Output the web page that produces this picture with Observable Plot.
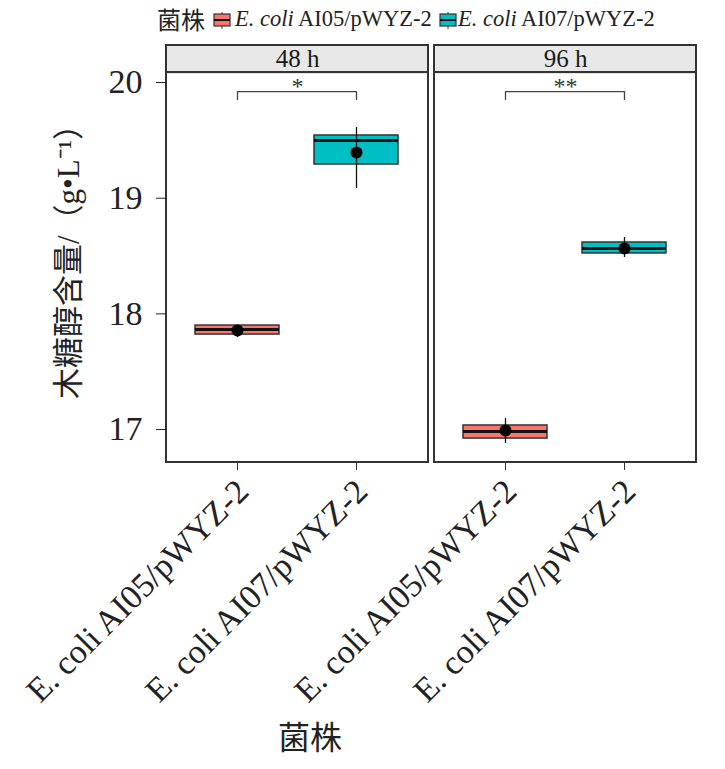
<!DOCTYPE html>
<html>
<head>
<meta charset="utf-8">
<script src="https://cdn.jsdelivr.net/npm/d3@7"></script>
<script src="https://cdn.jsdelivr.net/npm/@observablehq/plot@0.6"></script>
<style>
  body { margin: 0; background: #fff; }
  #wrap { position: relative; width: 725px; height: 769px; background: #fff;
          font-family: "Liberation Serif", "Noto Sans CJK SC", serif; color: #222; }
  #legend { position: absolute; top: 0; left: 0; width: 725px; height: 36px; overflow: hidden;
            font-size: 22.5px; white-space: nowrap; }
  #legend .item { position: absolute; top: 0; line-height: 38px; }
  #legend svg { position: absolute; top: 12px; }
  #chart { position: absolute; top: 36px; left: 0; }
  #xtitle { position: absolute; top: 712px; left: 0; width: 620px; text-align: center;
            font-family: "Noto Sans CJK SC", sans-serif; font-size: 32px; color: #222; }
</style>
</head>
<body>
<div id="wrap">
  <div id="legend"></div>
  <div id="chart"></div>
  <div id="xtitle"></div>
</div>
<script>
// ---- data ----
const times = ["48 h", "96 h"];
const strains = ["E. coli AI05/pWYZ-2", "E. coli AI07/pWYZ-2"];
const strainPrefix = "E. coli";
const strainSuffix = ["AI05/pWYZ-2", "AI07/pWYZ-2"];
const groupTime = ["48 h", "48 h", "96 h", "96 h"];
const groupStrain = [strains[0], strains[1], strains[0], strains[1]];
const boxLow = [17.821, 19.291, 16.922, 18.522];
const boxHigh = [17.899, 19.542, 17.035, 18.617];
const medians = [17.865, 19.498, 16.983, 18.565];
const means = [17.856, 19.394, 16.991, 18.565];
const whiskerLow = [17.795, 19.084, 16.879, 18.487];
const whiskerHigh = [17.899, 19.611, 17.095, 18.660];
const sigTime = ["48 h", "96 h"];
const sigLabel = ["*", "**"];
const yTicks = [17, 18, 19, 20];
const legendTitle = "菌株";
const xTitle = "菌株";
const yTitle = "木糖醇含量/（g•L⁻¹）";
const colors = ["#F8766D", "#00BFC4"];

// ---- layout constants (scale space) ----
const Y_MIN = 16.715, PANEL_TOP = 20.086, STRIP_TOP = 20.32;
const BRACKET_TOP = 19.922, BRACKET_BOTTOM = 19.853, STAR_Y = 19.97;

const rows = groupTime.map((t, i) => ({
  time: t, strain: groupStrain[i], q1: boxLow[i], q3: boxHigh[i],
  median: medians[i], mean: means[i], lo: whiskerLow[i], hi: whiskerHigh[i]
}));
const facets = times.map(t => ({time: t}));
const sigRows = sigTime.map((t, i) => ({time: t, label: sigLabel[i]}));
const bracketRows = sigTime.flatMap(t => [
  {time: t, strain: strains[0], y: BRACKET_BOTTOM},
  {time: t, strain: strains[0], y: BRACKET_TOP},
  {time: t, strain: strains[1], y: BRACKET_TOP},
  {time: t, strain: strains[1], y: BRACKET_BOTTOM}
]);

const font = "'Liberation Serif', 'Noto Sans CJK SC', serif";

const chart = Plot.plot({
  width: 725,
  height: 684,
  marginTop: 9,
  marginBottom: 258,
  marginLeft: 165,
  marginRight: 28,
  style: {fontFamily: font, background: "white", color: "#222", overflow: "visible"},
  fx: {domain: times, paddingInner: 0.0223, paddingOuter: 0, axis: null},
  x: {domain: strains, paddingInner: 0.29, paddingOuter: 0.245},
  y: {domain: [Y_MIN, STRIP_TOP]},
  color: {domain: strains, range: colors},
  marks: [
    // strip
    Plot.rect(facets, {fx: "time", y1: () => PANEL_TOP, y2: () => STRIP_TOP,
      fill: "#e8e8e8", stroke: "#333", strokeWidth: 2}),
    Plot.text(facets, {fx: "time", text: "time", frameAnchor: "top", dy: 13.5, lineAnchor: "middle",
      fontSize: 25, fill: "#1a1a1a"}),
    // significance
    Plot.line(bracketRows, {fx: "time", x: "strain", y: "y", z: "time", stroke: "#444", strokeWidth: 1.3}),
    Plot.text(sigRows, {fx: "time", text: "label", y: () => STAR_Y, frameAnchor: "middle",
      fontSize: 24, fill: "#333"}),
    // boxes
    Plot.barY(rows, {fx: "time", x: "strain", y1: "q1", y2: "q3", fill: "strain",
      stroke: "#333", strokeWidth: 1.5}),
    Plot.tickY(rows, {fx: "time", x: "strain", y: "median", stroke: "#111", strokeWidth: 3}),
    Plot.ruleX(rows, {fx: "time", x: "strain", y1: "lo", y2: "hi", stroke: "#111", strokeWidth: 1.3}),
    Plot.dot(rows, {fx: "time", x: "strain", y: "mean", r: 6, fill: "#000", stroke: "none"}),
    // panel border
    Plot.rect(facets, {fx: "time", y1: () => Y_MIN, y2: () => PANEL_TOP,
      fill: "none", stroke: "#333", strokeWidth: 2}),
    // axes
    Plot.axisY({ticks: yTicks, tickFormat: d => String(d), tickSize: 10, tickPadding: 14,
      fontSize: 34, color: "#222", label: null}),
    Plot.axisY({ticks: [], label: yTitle, labelAnchor: "center", labelOffset: 110,
      labelArrow: "none", fontSize: 31, color: "#222"}),
    Plot.axisX({tickSize: 8, tickFormat: () => "", label: null, color: "#333"}),
    Plot.text(rows, {fx: "time", x: "strain", text: "strain", frameAnchor: "bottom",
      dx: -4, dy: 14, rotate: -45, textAnchor: "end", lineAnchor: "top",
      fontSize: 34, fill: "#222"})
  ]
});
document.getElementById("chart").appendChild(chart);

// legend
const legend = document.getElementById("legend");
function addItem(left, html) {
  const s = document.createElement("span");
  s.className = "item"; s.style.left = left + "px"; s.innerHTML = html;
  legend.appendChild(s);
}
function addKey(left, color) {
  const ns = "http://www.w3.org/2000/svg";
  const svg = document.createElementNS(ns, "svg");
  svg.setAttribute("width", 18); svg.setAttribute("height", 17);
  svg.style.left = left + "px";
  svg.innerHTML = `<line x1="9" x2="9" y1="0" y2="17" stroke="#333" stroke-width="1"/>
    <rect x="1" y="2" width="16" height="12" fill="${color}" stroke="#333" stroke-width="1.2"/>
    <line x1="1" x2="17" y1="8" y2="8" stroke="#111" stroke-width="2"/>`;
  legend.appendChild(svg);
}
addItem(157, `<span style="font-family:'Noto Sans CJK SC',sans-serif;font-size:24px">${legendTitle}</span>`);
addKey(213, colors[0]);
addItem(235, `<i>${strainPrefix}</i> ${strainSuffix[0]}`);
addKey(439, colors[1]);
addItem(458, `<i>${strainPrefix}</i> ${strainSuffix[1]}`);

document.getElementById("xtitle").textContent = xTitle;
</script>
</body>
</html>
